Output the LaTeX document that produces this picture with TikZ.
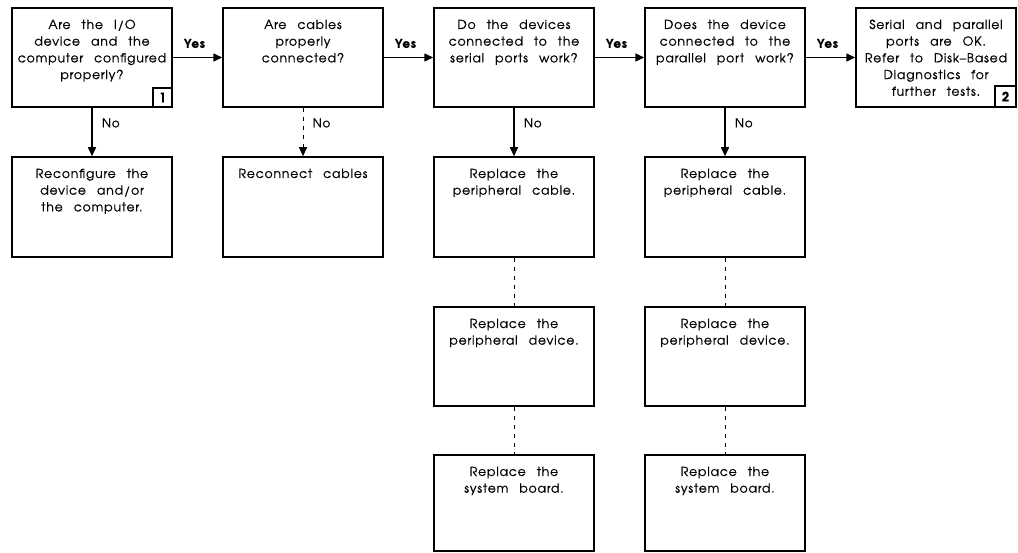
\documentclass[tikz,border=0pt]{standalone}
\usepackage{fontspec}
\setmainfont{texgyreadventor}[Extension=.otf, UprightFont=*-regular, BoldFont=*-bold,
  LetterSpace=6, WordSpace=2.6, FakeBold=0.6]
\usetikzlibrary{arrows.meta}

% box contents: text hangs from the top edge
\newcommand{\btext}[2][99pt]{\parbox[c][#1][t]{160pt}{\centering\rule{0pt}{21pt}#2}}

\tikzset{
  x=1pt, y=-1pt,
  box/.style={draw, line width=1.5pt, inner sep=0pt, font=\fontsize{12.5}{16.7}\selectfont},
  numbox/.style={draw, line width=1.5pt, inner sep=0pt, minimum width=19pt, minimum height=19pt,
                 anchor=south east, font=\fontsize{13}{13}\selectfont\bfseries},
  arr/.style={line width=1.5pt, -{Triangle[length=9pt,width=8pt]}},
  dsh/.style={line width=0.9pt, dash pattern=on 4pt off 5pt},
  yes/.style={midway, yshift=14pt, xshift=-3pt, font=\fontsize{12}{12}\selectfont\bfseries},
  no/.style={midway, anchor=west, xshift=6pt, yshift=9pt, font=\fontsize{12}{12}\selectfont},
}

\begin{document}
\begin{tikzpicture}
\useasboundingbox (0,0) rectangle (1018,553);

% question row
\node[box] (q1) at (92,57.5)  {\btext{Are the I/O\\device and the\\computer configured\\properly?}};
\node[box] (q2) at (303,57.5) {\btext{Are cables\\properly\\connected?}};
\node[box] (q3) at (514,57.5) {\btext{Do the devices\\connected to the\\serial ports work?}};
\node[box] (q4) at (725,57.5) {\btext{Does the device\\connected to the\\parallel port work?}};
\node[box] (q5) at (936,57.5) {\btext{Serial and parallel\\ports are OK.\\Refer to Disk--Based\\Diagnostics for\\further tests.}};

\node[numbox] (n1) at (q1.south east) {1};
\node[numbox, minimum width=21pt, minimum height=21pt] (n2) at (q5.south east) {2};

% remedies
\node[box] (r1) at (92,207)  {\btext[100pt]{Reconfigure the\\device and/or\\the computer.}};
\node[box] (r2) at (303,207) {\btext[100pt]{Reconnect cables}};
\node[box] (r3) at (514,207) {\btext[100pt]{Replace the\\peripheral cable.}};
\node[box] (r4) at (725,207) {\btext[100pt]{Replace the\\peripheral cable.}};

\node[box] (d3) at (514,356.5) {\btext{Replace the\\peripheral device.}};
\node[box] (d4) at (725,356.5) {\btext{Replace the\\peripheral device.}};

\node[box] (s3) at (514,503) {\btext[96pt]{Replace the\\system board.}};
\node[box] (s4) at (725,503) {\btext[96pt]{Replace the\\system board.}};

% yes branch
\draw[arr] (q1) -- node[yes]{Yes} (q2);
\draw[arr] (q2) -- node[yes]{Yes} (q3);
\draw[arr] (q3) -- node[yes]{Yes} (q4);
\draw[arr] (q4) -- node[yes]{Yes} (q5);

% no branch
\draw[arr] (q1) -- node[no]{No} (r1);
\draw[dsh, -{Triangle[length=9pt,width=8pt]}] (q2) -- node[no]{No} (r2);
\draw[arr] (q3) -- node[no]{No} (r3);
\draw[arr] (q4) -- node[no]{No} (r4);

% further steps
\draw[dsh] (r3) -- (d3);
\draw[dsh] (d3) -- (s3);
\draw[dsh] (r4) -- (d4);
\draw[dsh] (d4) -- (s4);
\end{tikzpicture}
\end{document}
